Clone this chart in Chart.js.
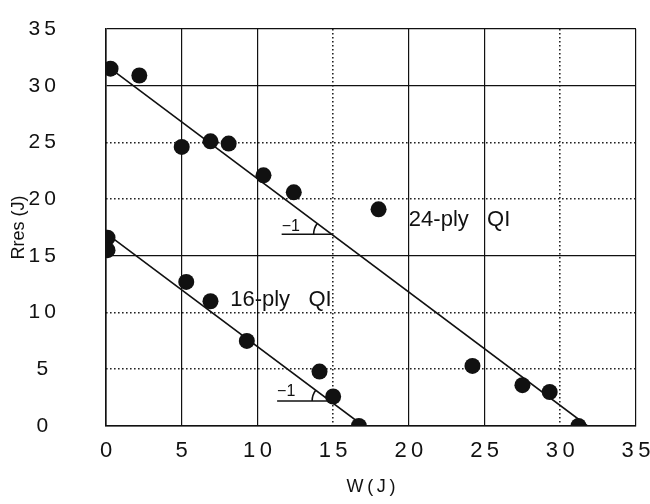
<!DOCTYPE html>
<html><head><meta charset="utf-8">
<script src="https://cdn.jsdelivr.net/npm/chart.js@4.4.0/dist/chart.umd.min.js"></script>
<style>html,body{margin:0;padding:0;background:#fff}#wrap{width:650px;height:504px;position:relative}</style>
</head><body><div id="wrap"><canvas id="c"></canvas></div>
<script>
// ---- data ----
const w24 = [0.3, 2.2, 5.0, 6.9, 8.1, 10.4, 12.4, 18.0, 24.2, 27.5, 29.3, 31.2];
const r24 = [31.5, 30.9, 24.6, 25.1, 24.9, 22.1, 20.6, 19.1, 5.3, 3.6, 3.0, 0.0];
const w16 = [0.1, 0.1, 5.3, 6.9, 9.3, 14.1, 15.0, 16.7];
const r16 = [16.6, 15.5, 12.7, 11.0, 7.5, 4.8, 2.6, 0.0];
const fit24W = [0.3, 31.8], fit24R = [31.5, 0];
const fit16W = [0.3, 17.0], fit16R = [16.7, 0];
const slope24W = [11.6, 14.9], slope24R = [16.9, 16.9];
const slope16W = [11.3, 14.8], slope16R = [2.2, 2.2];
const seriesNames = ['24-ply   QI', '16-ply   QI'];
const nameW = [20.0, 8.2], nameR = [18.2, 11.1];
const slopeText = '\u22121';
const slopeTextW = [11.6, 11.3], slopeTextR = [17.6, 3.0];
const axisTicks = [0, 5, 10, 15, 20, 25, 30, 35];
const solidX = [0, 5, 10, 20, 25, 35], dottedX = [15, 30];
const solidY = [0, 15, 30, 35], dottedY = [5, 10, 20, 25];
const xTitle = 'W\u2009(\u2009J\u2009)', yTitle = 'Rres (J)';

const pts = (xs, ys) => xs.map((x, i) => ({x, y: ys[i]}));
const INK = '#111';
const FONT = '"Liberation Sans", Arial, Helvetica, sans-serif';
const spaced = v => String(v).split('').join('\u2009');
const setTicks = s => { s.ticks = axisTicks.map(v => ({value: v})); };

const lineDs = (xs, ys) => ({type: 'scatter', data: pts(xs, ys), showLine: true,
  borderColor: INK, borderWidth: 1.6, pointRadius: 0, fill: false});

const annot = {
  id: 'annot',
  afterDatasetsDraw(chart) {
    const {ctx, scales: {x, y}} = chart;
    ctx.save();
    ctx.fillStyle = INK; ctx.strokeStyle = INK;
    ctx.font = '22px ' + FONT; ctx.textBaseline = 'middle'; ctx.textAlign = 'left';
    seriesNames.forEach((t, i) => ctx.fillText(t, x.getPixelForValue(nameW[i]), y.getPixelForValue(nameR[i])));
    ctx.font = '16px ' + FONT;
    slopeTextW.forEach((w, i) => ctx.fillText(slopeText, x.getPixelForValue(w), y.getPixelForValue(slopeTextR[i])));
    const arcs = [[slope24W, slope24R, fit24W, fit24R], [slope16W, slope16R, fit16W, fit16R]];
    ctx.lineWidth = 1.6;
    arcs.forEach(([sw, sr, fw, fr]) => {
      const cx = x.getPixelForValue(sw[1]), cy = y.getPixelForValue(sr[1]);
      const th = Math.atan2(y.getPixelForValue(fr[1]) - y.getPixelForValue(fr[0]),
                            x.getPixelForValue(fw[1]) - x.getPixelForValue(fw[0]));
      ctx.beginPath();
      ctx.arc(cx, cy, 18, Math.PI, Math.PI + th);
      ctx.stroke();
    });
    ctx.restore();
  }
};

new Chart(document.getElementById('c'), {
  type: 'scatter',
  data: {
    datasets: [
      {label: '24-ply QI', data: pts(w24, r24), pointRadius: 8, pointBackgroundColor: '#111', pointBorderWidth: 0},
      {label: '16-ply QI', data: pts(w16, r16), pointRadius: 8, pointBackgroundColor: '#111', pointBorderWidth: 0},
      lineDs(fit24W, fit24R), lineDs(fit16W, fit16R),
      lineDs(slope24W, slope24R), lineDs(slope16W, slope16R)
    ]
  },
  options: {
    responsive: true, maintainAspectRatio: false, animation: false,
    layout: {padding: {top: 29, right: 14, bottom: 0, left: 0}},
    plugins: {legend: {display: false}, tooltip: {enabled: false}},
    scales: {
      x: {
        type: 'linear', min: 0, max: 35, position: 'bottom',
        afterBuildTicks: setTicks,
        afterFit: s => { s.height = 78; s.paddingLeft = 0; s.paddingRight = 0; },
        ticks: {callback: spaced, color: INK, font: {family: FONT, size: 22}, padding: 12, maxRotation: 0},
        grid: {drawTicks: false, lineWidth: 1.2, color: c => solidX.includes(c.tick && c.tick.value) ? INK : 'rgba(0,0,0,0)'},
        border: {color: INK, width: 1.6},
        title: {display: true, text: xTitle, color: INK, font: {family: FONT, size: 18}, padding: {top: 0, bottom: 6}}
      },
      x2: {
        type: 'linear', min: 0, max: 35, position: 'bottom',
        afterBuildTicks: setTicks,
        afterFit: s => { s.height = 0; s.paddingLeft = 0; s.paddingRight = 0; },
        ticks: {display: false},
        grid: {drawTicks: false, lineWidth: 1.6, color: c => dottedX.includes(c.tick && c.tick.value) ? '#222' : 'rgba(0,0,0,0)'},
        border: {display: false, dash: [1.6, 2.4]}
      },
      y: {
        type: 'linear', min: 0, max: 35, position: 'left',
        afterBuildTicks: setTicks,
        afterFit: s => { s.width = 106; s.paddingTop = 0; s.paddingBottom = 0; },
        ticks: {callback: spaced, color: INK, font: {family: FONT, size: 21}, padding: 50, crossAlign: 'center'},
        grid: {drawTicks: false, lineWidth: 1.2, color: c => solidY.includes(c.tick && c.tick.value) ? INK : 'rgba(0,0,0,0)'},
        border: {color: INK, width: 1.6},
        title: {display: true, text: yTitle, color: INK, font: {family: FONT, size: 18}, padding: {top: 8, bottom: 0}}
      },
      y2: {
        type: 'linear', min: 0, max: 35, position: 'left',
        afterBuildTicks: setTicks,
        afterFit: s => { s.width = 0; s.paddingTop = 0; s.paddingBottom = 0; },
        ticks: {display: false},
        grid: {drawTicks: false, lineWidth: 1.6, color: c => dottedY.includes(c.tick && c.tick.value) ? '#222' : 'rgba(0,0,0,0)'},
        border: {display: false, dash: [1.6, 2.4]}
      }
    }
  },
  plugins: [annot]
});
</script>
</body></html>
